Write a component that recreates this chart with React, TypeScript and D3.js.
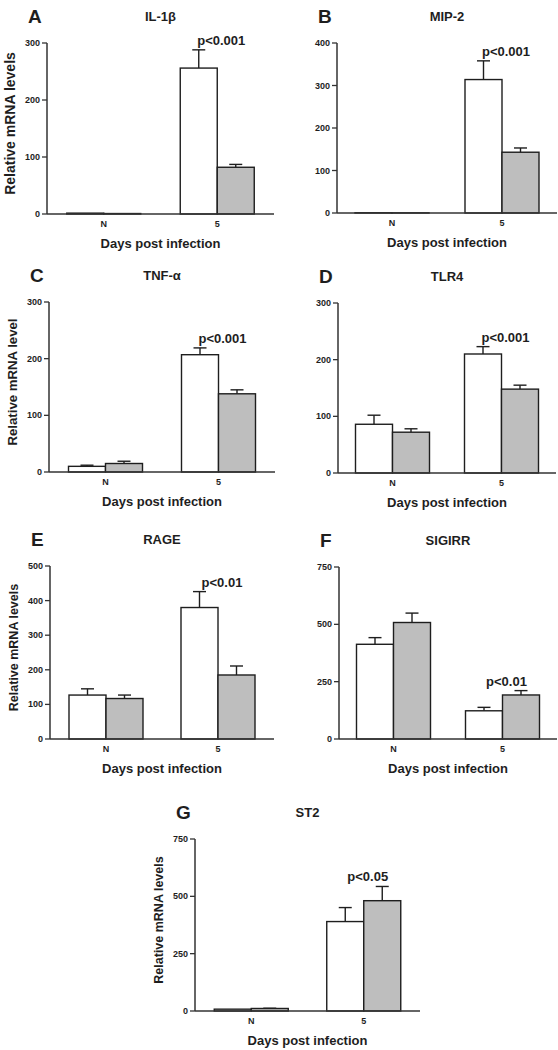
import React from "react";
import * as d3 from "d3";

// ---- data ----
const groups = ["N", "5"];
const series = ["white", "gray"];
const panelLetters = ["A", "B", "C", "D", "E", "F", "G"];
const titles = ["IL-1β", "MIP-2", "TNF-α", "TLR4", "RAGE", "SIGIRR", "ST2"];
const yMaxes = [300, 400, 300, 300, 500, 750, 750];
const yTickSteps = [100, 100, 100, 100, 100, 250, 250];
const whiteMeans = [[1.5, 256], [0.6, 314], [10, 207], [86, 210], [127, 380], [413, 123], [8, 390]];
const whiteErrors = [[0, 32], [0, 44], [2, 12], [16, 13], [18, 46], [29, 15], [0, 61]];
const grayMeans = [[0.8, 82], [0.4, 143], [15, 138], [72, 148], [117, 185], [508, 192], [11, 481]];
const grayErrors = [[0, 5], [0, 10], [4, 7], [6, 7], [10, 26], [41, 19], [1, 62]];
const pValues = ["p<0.001", "p<0.001", "p<0.001", "p<0.001", "p<0.01", "p<0.01", "p<0.05"];
const yLabels = ["Relative mRNA levels", "", "Relative mRNA level", "", "Relative mRNA levels", "", "Relative mRNA levels"];
const xTitle = "Days post infection";

// ---- layout (positions / styles) ----
const layout = [
  { ox: 47, top: 43, bottom: 214, width: 227, ylFont: 14 },
  { ox: 337, top: 43, bottom: 213, width: 220, ylFont: 13 },
  { ox: 49, top: 302, bottom: 472, width: 226, ylFont: 13.2 },
  { ox: 338, top: 303, bottom: 473, width: 218, ylFont: 13 },
  { ox: 50, top: 566, bottom: 739, width: 224, ylFont: 12.5 },
  { ox: 339, top: 567, bottom: 739, width: 218, ylFont: 13 },
  { ox: 195, top: 839, bottom: 1011, width: 225, ylFont: 12.5 },
];

const FONT = "Arial, 'Liberation Sans', Helvetica, sans-serif";
const INK = "#1e1e1e";
const AXIS = "#333";
const GRAY = "#bebebe";
const BW = 37;

function Panel({ i }: { i: number }) {
  const L = layout[i];
  const y = d3.scaleLinear().domain([0, yMaxes[i]]).range([L.bottom, L.top]);
  const x0 = d3.scalePoint<string>().domain(groups).range([L.ox, L.ox + L.width]).padding(0.5);
  const x1 = d3.scaleBand<string>().domain(series).range([-BW, BW]);
  const ticks = d3.range(0, yMaxes[i] + 1, yTickSteps[i]);
  const means = [whiteMeans[i], grayMeans[i]];
  const errs = [whiteErrors[i], grayErrors[i]];
  const fills = ["#ffffff", GRAY];

  const topVal = Math.max(means[0][1] + errs[0][1], means[1][1] + errs[1][1]);
  const pX = (x0("5") as number) + 4;
  const pY = y(topVal) - 5;

  return (
    <g fontFamily={FONT} fontWeight="bold" fill={INK}>
      <text x={L.ox - 19} y={L.top - 20} fontSize={19}>{panelLetters[i]}</text>
      <text x={L.ox + L.width / 2} y={L.top - 22} fontSize={13} textAnchor="middle">{titles[i]}</text>

      {groups.map((g, gi) =>
        series.map((s, si) => {
          const bx = (x0(g) as number) + (x1(s) as number);
          const v = means[si][gi];
          const e = errs[si][gi];
          const cx = bx + BW / 2;
          return (
            <g key={g + s}>
              {e > 0 && (
                <g stroke={INK} strokeWidth={1.4}>
                  <line x1={cx} x2={cx} y1={y(v)} y2={y(v + e)} />
                  <line x1={cx - 6.5} x2={cx + 6.5} y1={y(v + e)} y2={y(v + e)} />
                </g>
              )}
              <rect
                x={bx}
                y={y(v)}
                width={BW}
                height={Math.max(0, y(0) - y(v))}
                fill={fills[si]}
                stroke={INK}
                strokeWidth={1.4}
              />
            </g>
          );
        })
      )}

      <line x1={L.ox} x2={L.ox} y1={y(yMaxes[i])} y2={y(0)} stroke={AXIS} strokeWidth={1.5} />
      {ticks.map((t) => (
        <g key={t}>
          <line x1={L.ox - 5} x2={L.ox} y1={y(t)} y2={y(t)} stroke={AXIS} strokeWidth={1.3} />
          <text x={L.ox - 7} y={y(t)} dy="0.34em" fontSize={9} textAnchor="end">{t}</text>
        </g>
      ))}
      <line x1={L.ox} x2={L.ox + L.width} y1={y(0)} y2={y(0)} stroke={AXIS} strokeWidth={1.5} />
      {groups.map((g) => (
        <text key={g} x={x0(g) as number} y={L.bottom + 13} fontSize={9} textAnchor="middle">{g}</text>
      ))}
      <text x={L.ox + L.width / 2} y={L.bottom + 34} fontSize={13} textAnchor="middle">{xTitle}</text>

      {yLabels[i] && (
        <text
          transform={`translate(${L.ox - 32},${(L.top + L.bottom) / 2 - 5}) rotate(-90)`}
          fontSize={L.ylFont}
          textAnchor="middle"
        >
          {yLabels[i]}
        </text>
      )}

      <text x={pX} y={pY} fontSize={13} textAnchor="middle">{pValues[i]}</text>
    </g>
  );
}

export default function App() {
  return (
    <svg
      width={558}
      height={1050}
      viewBox="0 0 558 1050"
      style={{ position: "absolute", left: 0, top: 0, display: "block", background: "#fff" }}
    >
      <rect width={558} height={1050} fill="#fff" />
      {titles.map((_, i) => (
        <Panel key={i} i={i} />
      ))}
    </svg>
  );
}
